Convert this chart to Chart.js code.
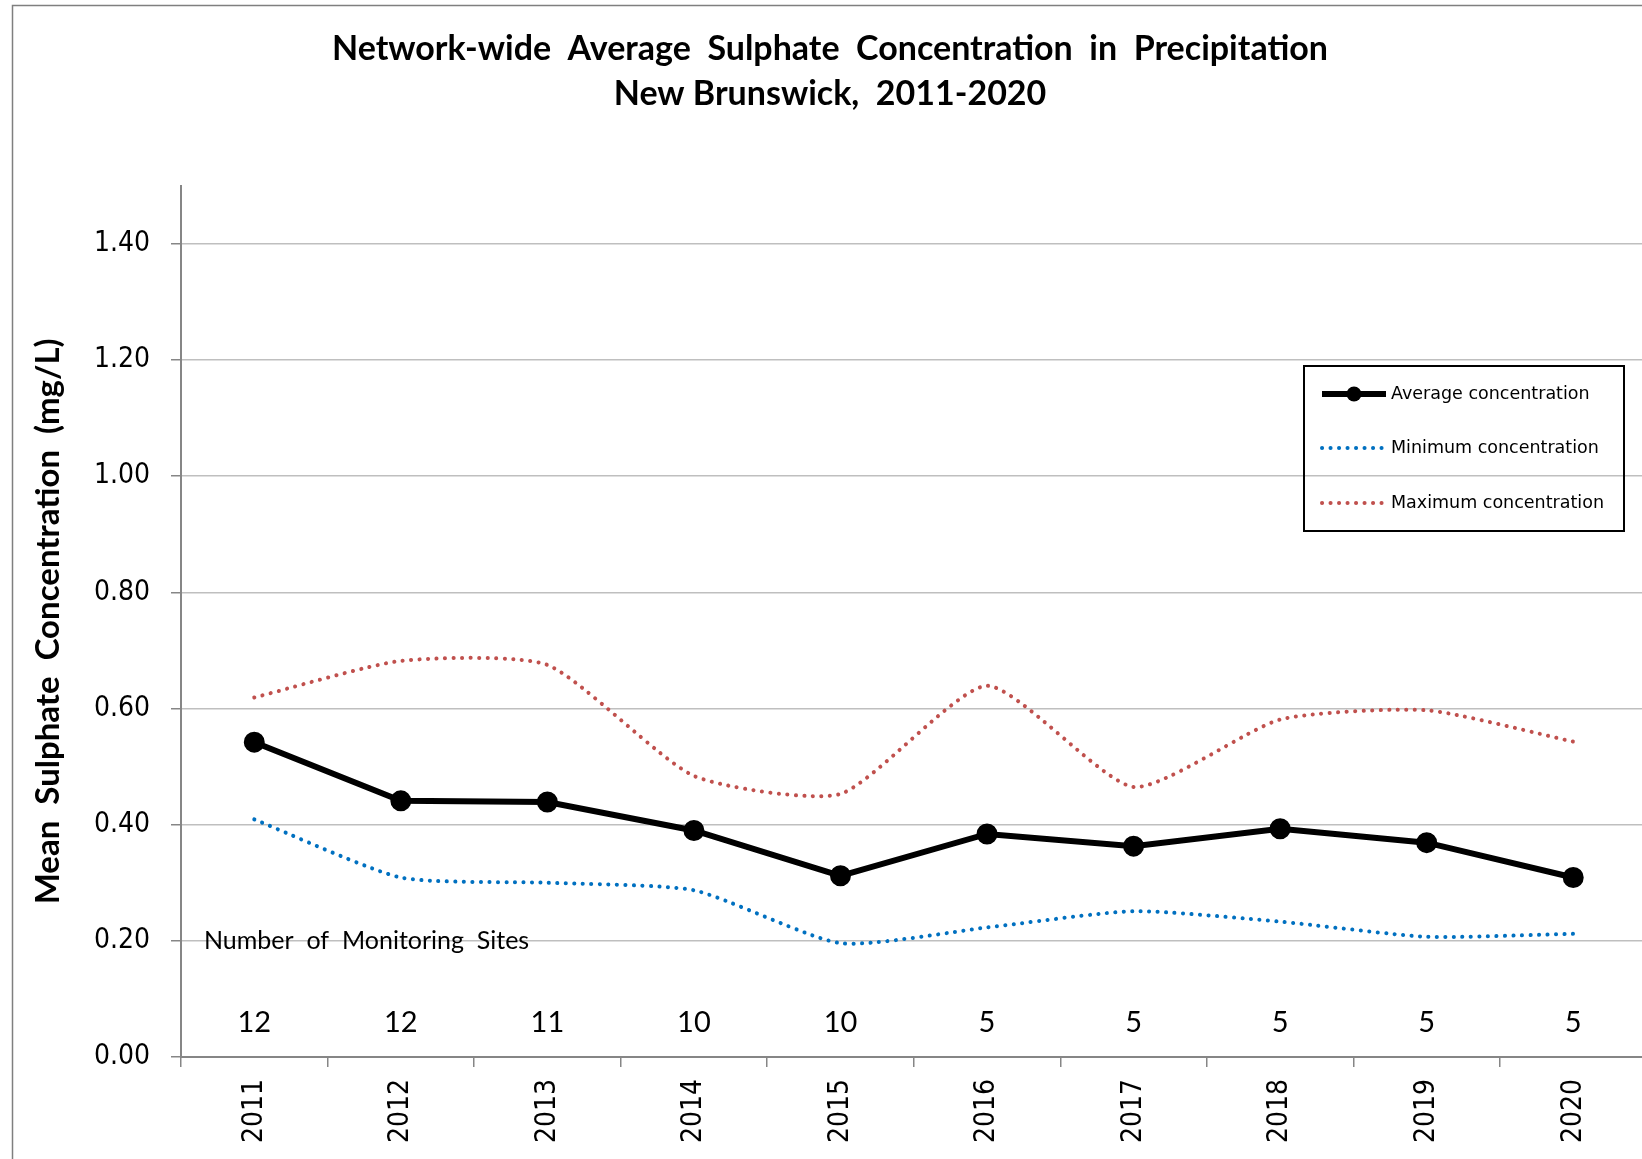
<!DOCTYPE html>
<html>
<head>
<meta charset="utf-8">
<script src="https://cdn.jsdelivr.net/npm/chart.js@4.4.0/dist/chart.umd.min.js"></script>
<style>
  html, body { margin: 0; padding: 0; background: #fff; overflow: hidden; }
</style>
</head>
<body>
<canvas id="myChart" width="1660" height="1159"></canvas>
<script>
// data
var years = ["2011","2012","2013","2014","2015","2016","2017","2018","2019","2020"];
var avgConc = [0.542, 0.441, 0.439, 0.390, 0.312, 0.384, 0.363, 0.393, 0.369, 0.309];
var minConc = [0.409, 0.309, 0.300, 0.287, 0.196, 0.223, 0.251, 0.233, 0.207, 0.212];
var maxConc = [0.619, 0.682, 0.675, 0.484, 0.453, 0.639, 0.465, 0.581, 0.597, 0.543];
var siteCounts = [12, 12, 11, 10, 10, 5, 5, 5, 5, 5];
var siteLabelValue = 0.06;
var yTicks = [0, 0.2, 0.4, 0.6, 0.8, 1.0, 1.2, 1.4];

var tickFont = "'DejaVu Sans Condensed', 'DejaVu Sans'";

var borderPlugin = {
    id: "outerBorder",
    beforeDraw: function (chart) {
        var ctx = chart.ctx;
        ctx.save();
        ctx.strokeStyle = "#7f7f7f";
        ctx.lineWidth = 1.5;
        ctx.strokeRect(12.5, 5.5, 2000, 2000);
        ctx.restore();
    }
};

var sitesPlugin = {
    id: "sites",
    afterDatasetsDraw: function (chart) {
        var ctx = chart.ctx;
        var xs = chart.scales.x, ys = chart.scales.y;
        ctx.save();
        ctx.fillStyle = "#000";
        ctx.font = "25px Lato";
        ctx.textAlign = "left";
        ctx.textBaseline = "middle";
        ctx.fillText("Number  of  Monitoring  Sites", chart.chartArea.left + 23, ys.getPixelForValue(0.2));
        ctx.font = "29px Lato";
        ctx.textAlign = "center";
        for (var i = 0; i < siteCounts.length; i++) {
            ctx.fillText(String(siteCounts[i]), xs.getPixelForValue(i), ys.getPixelForValue(siteLabelValue));
        }
        ctx.restore();
    }
};

var legendPlugin = {
    id: "boxLegend",
    afterDraw: function (chart) {
        var ctx = chart.ctx;
        ctx.save();
        ctx.strokeStyle = "#000";
        ctx.lineWidth = 2;
        ctx.strokeRect(1304, 366, 320, 165);
        var rows = [394, 448, 503];
        ctx.font = "17.5px 'DejaVu Sans'";
        ctx.textBaseline = "middle";
        ctx.textAlign = "left";
        chart.data.datasets.forEach(function (ds, i) {
            var y = rows[i];
            ctx.save();
            ctx.strokeStyle = ds.borderColor;
            ctx.lineWidth = ds.borderWidth;
            ctx.lineCap = ds.borderCapStyle || "butt";
            ctx.setLineDash(ds.borderDash || []);
            ctx.beginPath();
            ctx.moveTo(1322, y);
            ctx.lineTo(1386, y);
            ctx.stroke();
            ctx.restore();
            if (ds.pointRadius > 0) {
                ctx.beginPath();
                ctx.fillStyle = ds.pointBackgroundColor;
                ctx.arc(1354, y, ds.pointRadius, 0, Math.PI * 2);
                ctx.fill();
            }
            ctx.fillStyle = "#000";
            ctx.fillText(ds.label, 1391, y);
        });
        ctx.restore();
    }
};

new Chart("myChart", {
    type: "line",
    data: {
        labels: years,
        datasets: [{
            label: "Average concentration",
            data: avgConc,
            borderColor: "#000",
            borderWidth: 6,
            pointRadius: 7.5,
            pointBackgroundColor: "#000",
            pointBorderColor: "#000",
            tension: 0,
            fill: false
        }, {
            label: "Minimum concentration",
            data: minConc,
            borderColor: "#0070C0",
            borderWidth: 4,
            borderDash: [0.1, 8.4],
            borderCapStyle: "round",
            pointRadius: 0,
            tension: 0.2,
            fill: false
        }, {
            label: "Maximum concentration",
            data: maxConc,
            borderColor: "#C0504D",
            borderWidth: 4,
            borderDash: [0.1, 8.4],
            borderCapStyle: "round",
            pointRadius: 0,
            tension: 0.2,
            fill: false
        }]
    },
    options: {
        responsive: false,
        animation: false,
        layout: { padding: { left: 0, right: 0, top: 0, bottom: 0 } },
        plugins: {
            legend: { display: false },
            tooltip: { enabled: false },
            title: {
                display: true,
                text: ["Network-wide  Average  Sulphate  Concentration  in  Precipitation",
                    "New Brunswick,  2011-2020"],
                color: "#000",
                font: { family: "Lato", size: 34, weight: "bold", lineHeight: 1.32 },
                padding: { top: 27, bottom: 69 }
            }
        },
        scales: {
            x: {
                offset: true,
                grid: { offset: true, drawOnChartArea: false, color: "#868686", lineWidth: 1.5, tickLength: 10 },
                border: { color: "#868686", width: 2 },
                ticks: {
                    color: "#000",
                    font: { family: tickFont, size: 28 },
                    minRotation: 90,
                    maxRotation: 90,
                    padding: 12
                },
                afterFit: function (scale) { scale.height = 102; }
            },
            y: {
                min: 0,
                max: 1.5,
                ticks: {
                    stepSize: 0.2,
                    color: "#000",
                    font: { family: tickFont, size: 28 },
                    padding: 21,
                    callback: function (v) { return Number(v).toFixed(2); }
                },
                afterBuildTicks: function (scale) {
                    scale.ticks = yTicks.map(function (v) { return { value: v }; });
                },
                grid: { color: "#BFBFBF", lineWidth: 1.5, tickLength: 10, tickColor: "#868686" },
                border: { color: "#868686", width: 2 },
                title: {
                    display: true,
                    text: "Mean  Sulphate  Concentration  (mg/L)",
                    color: "#000",
                    font: { family: "Lato", size: 33, weight: "bold", lineHeight: 1.2 },
                    padding: { top: 29, bottom: 0 }
                },
                afterFit: function (scale) { scale.width = 181; }
            }
        }
    },
    plugins: [borderPlugin, sitesPlugin, legendPlugin]
});
</script>
</body>
</html>
